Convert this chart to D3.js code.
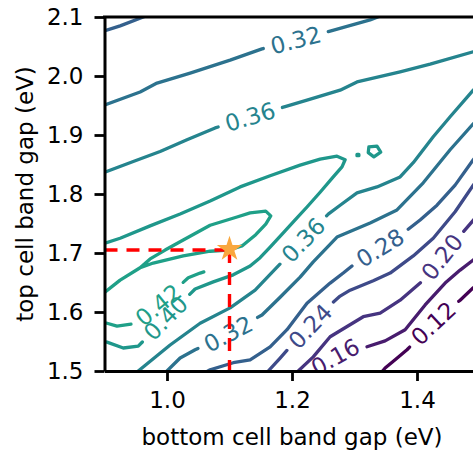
<!DOCTYPE html>
<html>
<head>
<meta charset="utf-8">
<script src="https://cdn.jsdelivr.net/npm/d3@7"></script>
<style>
  body { margin: 0; background: #fff; }
  svg text { font-family: "DejaVu Sans", sans-serif; }
</style>
</head>
<body>
<svg id="chart" width="473" height="450"></svg>
<script>
const xTicks = [1.0, 1.2, 1.4];
const yTicks = [1.5, 1.6, 1.7, 1.8, 1.9, 2.0, 2.1];
const levels = [0.12, 0.16, 0.20, 0.24, 0.28, 0.32, 0.36, 0.40, 0.42];

// contour lines, [bottom gap, top gap] in eV
const c012 = [[1.333,1.485],[1.349,1.505],[1.365,1.519],[1.384,1.536],[1.426,1.581],[1.469,1.620],[1.490,1.641],[1.517,1.663]];
const c016 = [[1.213,1.476],[1.232,1.497],[1.269,1.524],[1.296,1.536],[1.320,1.541],[1.349,1.551],[1.381,1.570],[1.413,1.612],[1.445,1.649],[1.469,1.671],[1.490,1.688],[1.517,1.714]];
const c020 = [[1.197,1.485],[1.210,1.500],[1.234,1.524],[1.261,1.558],[1.314,1.592],[1.341,1.598],[1.373,1.620],[1.405,1.649],[1.432,1.683],[1.450,1.707],[1.470,1.731],[1.493,1.759],[1.517,1.790]];
const c024 = [[1.149,1.485],[1.162,1.500],[1.181,1.522],[1.197,1.541],[1.229,1.576],[1.261,1.612],[1.277,1.627],[1.293,1.637],[1.330,1.653],[1.357,1.666],[1.394,1.695],[1.426,1.725],[1.461,1.770],[1.490,1.815],[1.509,1.841]];
const c028a = [[0.893,2.074],[0.925,2.085],[0.962,2.100],[0.973,2.105]];
const c028b = [[1.517,1.892],[1.490,1.858],[1.461,1.815],[1.432,1.781],[1.405,1.756],[1.381,1.736],[1.341,1.709],[1.304,1.685],[1.282,1.666],[1.261,1.649],[1.224,1.615],[1.192,1.570],[1.165,1.541],[1.133,1.519],[1.106,1.514],[1.069,1.502],[1.045,1.488]];
const c032a = [[0.893,1.948],[0.957,1.973],[0.984,1.988],[1.037,2.005],[1.101,2.027],[1.152,2.046],[1.206,2.061],[1.261,2.076],[1.325,2.095],[1.349,2.105]];
const c032b = [[1.517,1.949],[1.490,1.919],[1.453,1.875],[1.410,1.819],[1.368,1.773],[1.325,1.751],[1.272,1.727],[1.234,1.685],[1.213,1.659],[1.181,1.625],[1.152,1.595],[1.098,1.563],[1.045,1.536],[1.021,1.522],[1.000,1.500],[0.989,1.488]];
const c036a = [[0.893,1.834],[0.946,1.855],[0.989,1.872],[1.032,1.892],[1.077,1.912],[1.133,1.931],[1.189,1.948],[1.224,1.959],[1.277,1.976],[1.304,1.990],[1.373,2.007],[1.421,2.020],[1.490,2.041],[1.517,2.048]];
const c036b = [[1.517,1.997],[1.490,1.976],[1.453,1.931],[1.426,1.897],[1.394,1.853],[1.373,1.829],[1.336,1.812],[1.304,1.802],[1.277,1.781],[1.258,1.766],[1.218,1.722],[1.178,1.678],[1.141,1.637],[1.101,1.607],[1.053,1.581],[1.005,1.544],[0.954,1.500],[0.941,1.488]];
const c040 = [[0.893,1.714],[0.925,1.725],[0.973,1.746],[1.021,1.766],[1.069,1.788],[1.117,1.812],[1.165,1.831],[1.213,1.849],[1.245,1.859],[1.272,1.864],[1.285,1.858],[1.280,1.846],[1.266,1.829],[1.245,1.803],[1.224,1.778],[1.205,1.756],[1.186,1.734],[1.165,1.710],[1.149,1.692],[1.133,1.678],[1.106,1.663],[1.074,1.651],[1.045,1.639],[0.998,1.590],[0.954,1.542],[0.930,1.539],[0.904,1.549],[0.893,1.551]];
const c040dot = [[1.304,1.867],[1.307,1.867],[1.307,1.865],[1.304,1.865],[1.304,1.867]];
const c040ring = [[1.323,1.880],[1.336,1.881],[1.342,1.871],[1.331,1.863],[1.322,1.870],[1.323,1.880]];
const c042a = [[0.893,1.627],[0.925,1.654],[0.957,1.675],[0.978,1.683],[1.026,1.695],[1.069,1.703],[1.098,1.705],[1.120,1.712],[1.142,1.731],[1.158,1.749],[1.166,1.763],[1.158,1.771],[1.133,1.768],[1.112,1.761],[1.069,1.747],[1.026,1.722],[0.997,1.705],[0.973,1.690],[0.957,1.675]];
const c042b = [[0.893,1.581],[0.904,1.581],[0.920,1.576],[0.946,1.580],[0.986,1.612],[1.034,1.658],[1.053,1.666],[1.059,1.668]];

const optimum = [1.1, 1.705];

const contours = [
  { level: 0.12, pts: c012, label: [1.426, 1.581] },
  { level: 0.16, pts: c016, label: [1.269, 1.524] },
  { level: 0.20, pts: c020, label: [1.438, 1.695] },
  { level: 0.24, pts: c024, label: [1.229, 1.576] },
  { level: 0.28, pts: c028a },
  { level: 0.28, pts: c028b, label: [1.341, 1.709] },
  { level: 0.32, pts: c032a, label: [1.206, 2.061] },
  { level: 0.32, pts: c032b, label: [1.098, 1.563] },
  { level: 0.36, pts: c036a, label: [1.133, 1.931] },
  { level: 0.36, pts: c036b, label: [1.218, 1.722] },
  { level: 0.40, pts: c040, label: [0.998, 1.590] },
  { level: 0.40, pts: c040dot },
  { level: 0.40, pts: c040ring },
  { level: 0.42, pts: c042a },
  { level: 0.42, pts: c042b, label: [0.986, 1.612] }
];

const fontSize = 23;
const svg = d3.select('#chart');

const x = d3.scaleLinear().domain([0.9, 1.5]).range([104.5, 479.5]);
const y = d3.scaleLinear().domain([1.5, 2.1]).range([371, 17]);
const colour = d3.scaleSequential(d3.interpolateViridis).domain([levels[0], 0.65]);

svg.append('clipPath').attr('id', 'plot-clip')
  .append('rect')
  .attr('x', x(0.9)).attr('y', y(2.1))
  .attr('width', x(1.5) - x(0.9)).attr('height', y(1.5) - y(2.1));

// helpers to walk a polyline in pixel space
function pathInfo(pts) {
  const p = pts.map(d => [x(d[0]), y(d[1])]);
  const s = [0];
  for (let i = 1; i < p.length; i++) {
    s.push(s[i - 1] + Math.hypot(p[i][0] - p[i - 1][0], p[i][1] - p[i - 1][1]));
  }
  return { p, s, total: s[s.length - 1] };
}
function pointAt(info, t) {
  const { p, s } = info;
  if (t <= 0) return p[0];
  if (t >= info.total) return p[p.length - 1];
  let i = 1;
  while (s[i] < t) i++;
  const f = (t - s[i - 1]) / (s[i] - s[i - 1]);
  return [p[i - 1][0] + f * (p[i][0] - p[i - 1][0]), p[i - 1][1] + f * (p[i][1] - p[i - 1][1])];
}
function piece(info, a, b) {
  const out = [pointAt(info, a)];
  info.p.forEach((pt, i) => { if (info.s[i] > a && info.s[i] < b) out.push(pt); });
  out.push(pointAt(info, b));
  return out;
}
function nearest(info, q) {
  let best = { d: Infinity, t: 0 };
  for (let i = 1; i < info.p.length; i++) {
    const a = info.p[i - 1], b = info.p[i];
    const dx = b[0] - a[0], dy = b[1] - a[1], L2 = dx * dx + dy * dy;
    let f = L2 ? ((q[0] - a[0]) * dx + (q[1] - a[1]) * dy) / L2 : 0;
    f = Math.max(0, Math.min(1, f));
    const d = Math.hypot(q[0] - (a[0] + f * dx), q[1] - (a[1] + f * dy));
    if (d < best.d) best = { d, t: info.s[i - 1] + f * Math.sqrt(L2) };
  }
  return best.t;
}

// text width for the inline gaps
const probe = svg.append('text').style('font-size', fontSize + 'px').text('0.00');
const labelWidth = probe.node().getComputedTextLength();
probe.remove();
const gapPad = 8;

const line = d3.line().curve(d3.curveLinear);
const plot = svg.append('g').attr('clip-path', 'url(#plot-clip)');
const lineLayer = plot.append('g');
const labelLayer = plot.append('g');

contours.forEach(c => {
  const info = pathInfo(c.pts);
  let pieces = [info.p];
  if (c.label) {
    const t0 = nearest(info, [x(c.label[0]), y(c.label[1])]);
    const half = labelWidth / 2 + gapPad;
    pieces = [];
    if (t0 - half > 0) pieces.push(piece(info, 0, t0 - half));
    if (t0 + half < info.total) pieces.push(piece(info, t0 + half, info.total));

    const mid = pointAt(info, t0);
    const a = pointAt(info, t0 - 10), b = pointAt(info, t0 + 10);
    let angle = Math.atan2(b[1] - a[1], b[0] - a[0]) * 180 / Math.PI;
    if (angle > 90) angle -= 180;
    if (angle < -90) angle += 180;
    labelLayer.append('text')
      .attr('transform', `translate(${mid[0]},${mid[1]}) rotate(${angle})`)
      .attr('text-anchor', 'middle')
      .attr('dy', '0.36em')
      .style('font-size', fontSize + 'px')
      .attr('fill', colour(c.level))
      .text(c.level.toFixed(2));
  }
  pieces.forEach(pc => {
    lineLayer.append('path')
      .attr('d', line(pc))
      .attr('fill', 'none')
      .attr('stroke', colour(c.level))
      .attr('stroke-width', 3.3)
      .attr('stroke-linejoin', 'round')
      .attr('stroke-linecap', 'round');
  });
});

// optimum marker with guide lines
plot.append('path')
  .attr('d', line([[x(0.9), y(optimum[1])], [x(optimum[0]), y(optimum[1])]]))
  .attr('stroke', '#ff0000').attr('stroke-width', 3.4)
  .attr('stroke-dasharray', '13,9').attr('fill', 'none');
plot.append('path')
  .attr('d', line([[x(optimum[0]), y(optimum[1])], [x(optimum[0]), y(1.5)]]))
  .attr('stroke', '#ff0000').attr('stroke-width', 3.4)
  .attr('stroke-dasharray', '13,9').attr('fill', 'none');
svg.append('path')
  .attr('d', d3.symbol().type(d3.symbolStar).size(200)())
  .attr('transform', `translate(${x(optimum[0])},${y(optimum[1]) - 1})`)
  .attr('fill', '#f9a73e');

// axes
const xAxis = d3.axisBottom(x).tickValues(xTicks).tickFormat(d3.format('.1f'))
  .tickSize(10).tickSizeOuter(0).tickPadding(11);
const yAxis = d3.axisLeft(y).tickValues(yTicks).tickFormat(d3.format('.1f'))
  .tickSize(10).tickSizeOuter(0).tickPadding(11);

const gx = svg.append('g').attr('transform', `translate(0,${y(1.5)})`).call(xAxis);
const gy = svg.append('g').attr('transform', `translate(${x(0.9)},0)`).call(yAxis);
[gx, gy].forEach(g => {
  g.select('.domain').attr('stroke', '#000').attr('stroke-width', 3);
  g.selectAll('.tick line').attr('stroke', '#000').attr('stroke-width', 2.8);
  g.selectAll('.tick text').attr('fill', '#000')
    .style('font-size', fontSize + 'px')
    .style('font-family', '"DejaVu Sans", sans-serif');
});
svg.append('line')
  .attr('x1', x(0.9) - 1.5).attr('x2', x(1.5))
  .attr('y1', y(2.1)).attr('y2', y(2.1))
  .attr('stroke', '#000').attr('stroke-width', 3);
svg.append('line')
  .attr('x1', x(1.5)).attr('x2', x(1.5))
  .attr('y1', y(2.1)).attr('y2', y(1.5))
  .attr('stroke', '#000').attr('stroke-width', 3);

svg.append('text')
  .attr('x', (x(0.9) + x(1.5)) / 2).attr('y', 445)
  .attr('text-anchor', 'middle')
  .style('font-size', fontSize + 'px')
  .text('bottom cell band gap (eV)');
svg.append('text')
  .attr('transform', `translate(33,${(y(1.5) + y(2.1)) / 2}) rotate(-90)`)
  .attr('text-anchor', 'middle')
  .style('font-size', fontSize + 'px')
  .text('top cell band gap (eV)');
</script>
</body>
</html>
